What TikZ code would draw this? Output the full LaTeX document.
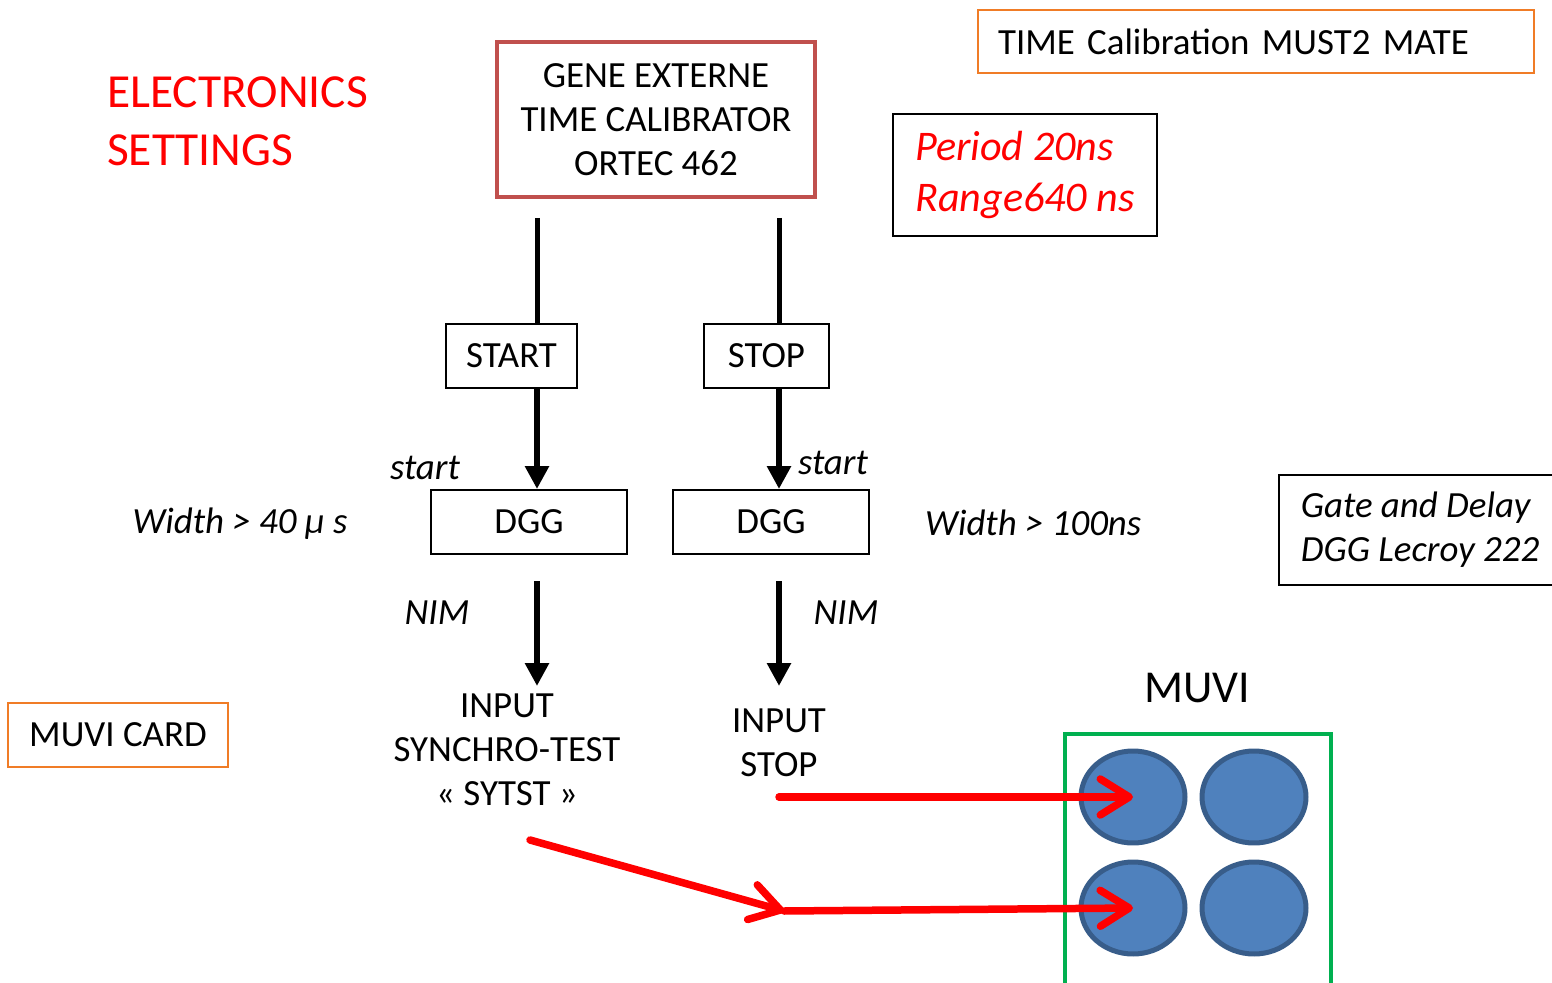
\documentclass[tikz,border=0pt]{standalone}
\usepackage{fontspec}
\setmainfont{Carlito}
\usetikzlibrary{arrows.meta, positioning, shapes.geometric}
\definecolor{genered}{HTML}{C0504D}
\definecolor{cardorange}{HTML}{F07C26}
\definecolor{muvigreen}{HTML}{00B050}
\definecolor{padfill}{HTML}{4F81BD}
\definecolor{padline}{HTML}{385D8A}
\tikzset{
	x=0.02cm, y=-0.02cm,
	every node/.style={font=\fontsize{21}{25}\selectfont},
	blk/.style={draw, line width=0.04cm, minimum height=1.28cm, inner sep=0pt},
	tag/.style={font=\fontsize{21}{25}\selectfont\itshape},
	wire/.style={line width=0.1cm},
	sig/.style={line width=0.13cm, -{Triangle[length=0.46cm,width=0.46cm]}},
	feed/.style={red, line width=0.15cm, line cap=round, -{Straight Barb[length=0.58cm,width=0.72cm,round]}},
	pad/.style={ellipse, draw=padline, fill=padfill, line width=0.1cm, minimum width=2.08cm, minimum height=1.84cm},
}

\begin{document}
\begin{tikzpicture}
	\useasboundingbox (0,0) rectangle (1552,983);

	\node[anchor=west, align=left, text=red, font=\fontsize{27}{33}\selectfont] (ELEC) at (101,121) {ELECTRONICS\\SETTINGS};
	\node[draw=genered, line width=0.09cm, minimum width=6.36cm, minimum height=3.1cm, align=center] (GENE) at (656,119.5) {GENE EXTERNE\\TIME CALIBRATOR\\ORTEC 462};
	\node[draw=cardorange, line width=0.04cm, minimum height=1.26cm, inner xsep=0.4cm, text width=10.32cm, align=left] (TITLE) at (1256,41.5) {TIME Calibration MUST2 MATE};
	\node[draw, line width=0.04cm, minimum width=5.28cm, minimum height=2.44cm, align=left, text=red, font=\fontsize{24}{29}\selectfont\itshape] (PERIOD) at (1025,175) {Period 20ns\\Range640 ns};

	\node[blk, minimum width=2.62cm] (START) at (511.5,356) {START};
	\node[blk, minimum width=2.5cm] (STOP) at (766.5,356) {STOP};
	\node[blk, minimum width=3.92cm] (DGG1) at (529,522) {DGG};
	\node[blk, minimum width=3.92cm] (DGG2) at (771,522) {DGG};
	\node[draw, line width=0.04cm, minimum width=5.64cm, minimum height=2.2cm, align=left, tag] (GATE) at (1420,530) {Gate and Delay\\DGG Lecroy 222};
	\node[blk, draw=cardorange, minimum width=4.4cm] (CARD) at (118,735) {MUVI CARD};

	\node[tag] (startA) at (425,468) {start};
	\node[tag] (startB) at (833,463) {start};
	\node[tag] (width1) at (240,524) {Width > 40 μ s};
	\node[tag, anchor=west] (width2) at (919,523) {Width > 100ns};
	\node[tag] (nimA) at (437,613) {NIM};
	\node[tag] (nimB) at (846,613) {NIM};
	\node[align=center] (IN1) at (507,750) {INPUT\\SYNCHRO-TEST\\« SYTST »};
	\node[align=center] (IN2) at (779,742.5) {INPUT\\STOP};

	\node[font=\fontsize{26}{30}\selectfont] (MUVI) at (1197,688) {MUVI};
	\node[draw=muvigreen, line width=0.08cm, minimum width=5.32cm, minimum height=5.32cm] (BOX) at (1198,867) {};
	\node[pad] (p1) at (1133,797) {};
	\node[pad] (p2) at (1254,797) {};
	\node[pad] (p3) at (1133,908) {};
	\node[pad] (p4) at (1254,908) {};

	% timing lines
	\coordinate (g1) at (537,218);
	\coordinate (g2) at (779,218);
	\coordinate (o1) at (537,581);
	\coordinate (o2) at (779,581);
	\coordinate (i1) at (537,686);
	\coordinate (i2) at (779,686);
	\draw[wire] (g1) -- (g1 |- START.north);
	\draw[wire] (g2) -- (g2 |- STOP.north);
	\draw[sig] (g1 |- START.south) -- (g1 |- DGG1.north);
	\draw[sig] (g2 |- STOP.south) -- (g2 |- DGG2.north);
	\draw[sig] (o1) -- (i1);
	\draw[sig] (o2) -- (i2);

	% cables to MUVI
	\coordinate (s1) at (530,840);
	\coordinate (kink) at (784,911);
	\coordinate (s2) at (779,797);
	\draw[feed] (s2) -- (p1.center);
	\draw[feed] (s1) -- (kink);
	\draw[feed] (kink) -- (p3.center);
\end{tikzpicture}
\end{document}
